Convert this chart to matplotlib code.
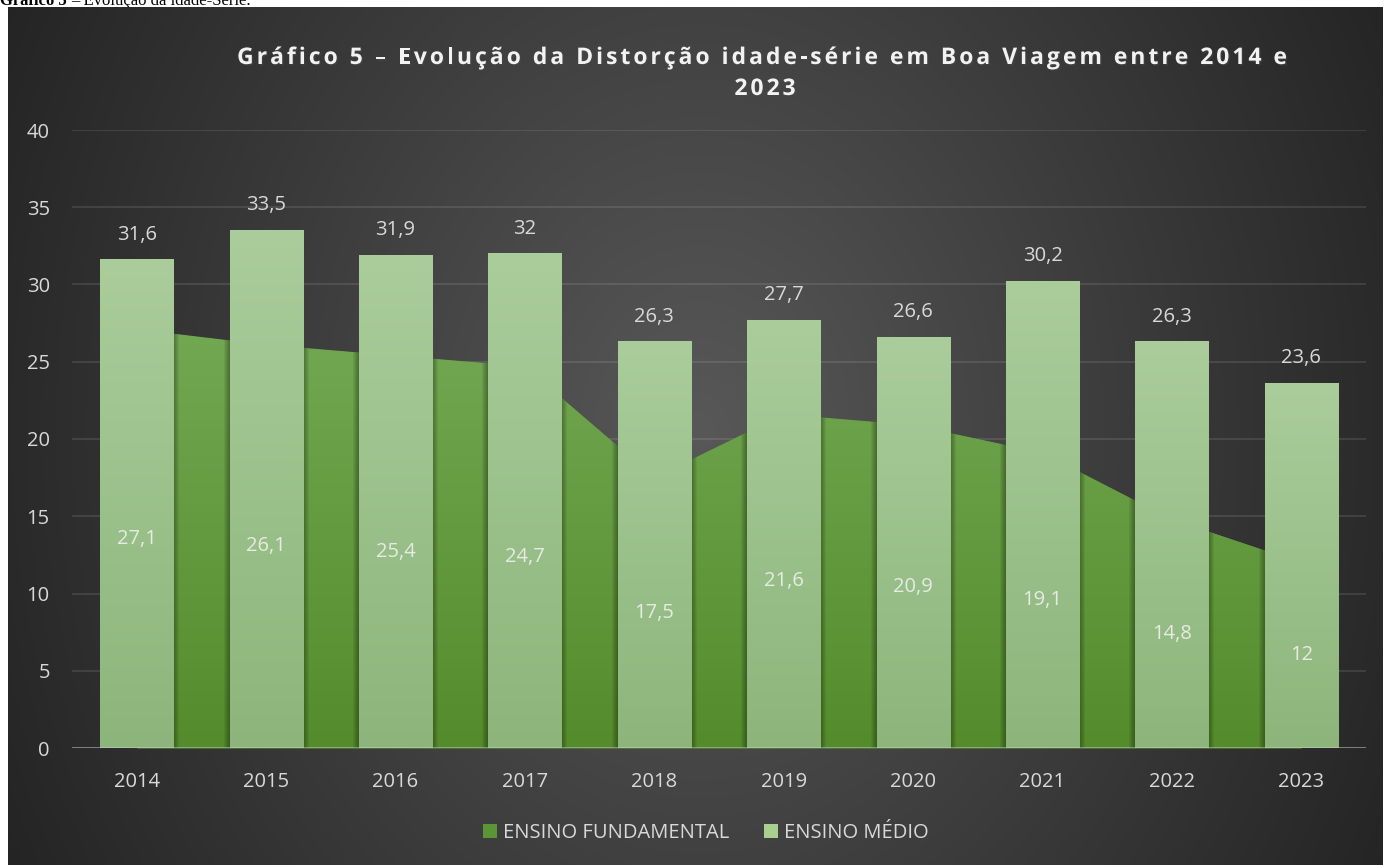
import numpy as np
import matplotlib
matplotlib.use("Agg")
import matplotlib.pyplot as plt
import matplotlib.patheffects as pe
from matplotlib.patches import Patch, Rectangle
from matplotlib.colors import LinearSegmentedColormap

# dados do gráfico
anos = ["2014", "2015", "2016", "2017", "2018", "2019", "2020", "2021", "2022", "2023"]
ensino_fundamental = [27.1, 26.1, 25.4, 24.7, 17.5, 21.6, 20.9, 19.1, 14.8, 12]
ensino_medio = [31.6, 33.5, 31.9, 32, 26.3, 27.7, 26.6, 30.2, 26.3, 23.6]
y_ticks = [0, 5, 10, 15, 20, 25, 30, 35, 40]
series_nomes = ["ENSINO FUNDAMENTAL", "ENSINO MÉDIO"]
titulo = ["Gráfico 5 – Evolução da Distorção idade-série em Boa Viagem entre 2014 e", "2023"]

plt.rcParams["font.family"] = ["Open Sans", "DejaVu Sans"]

W, H = 1387, 865
fig = plt.figure(figsize=(W / 100, H / 100), dpi=100)
fig.patch.set_facecolor("white")

# fundo escuro com gradiente radial (coordenadas em pixels, origem no topo)
bg = fig.add_axes([0, 0, 1, 1], zorder=-10)
bg.set_xlim(0, W)
bg.set_ylim(H, 0)
bg.axis("off")
xx, yy = np.meshgrid(np.linspace(8, 1383, 500), np.linspace(7, 865, 320))
r = np.sqrt(((xx - 700) / 690) ** 2 + ((yy - 430) / 850) ** 2)
v = np.clip(88 - 46 * r, 34, 90) / 255
rgb = np.dstack([v, v, v])
bg.imshow(rgb, extent=(8, 1383, 865, 7), origin="upper", aspect="auto", zorder=0)

# legenda do documento acima (cortada no topo)
t1 = bg.text(0, 5, "Gráfico 5", family=["Liberation Serif"], fontweight="bold",
             fontsize=12, va="baseline", ha="left", color="black", zorder=-1)
rend = fig.canvas.get_renderer()
w1 = t1.get_window_extent(rend).width
bg.text(w1 + 4, 5, "– Evolução da idade-Série.", family=["Liberation Serif"],
        fontsize=12, va="baseline", ha="left", color="black", zorder=-1)


def texto_espacado(eixo, x_centro, y_base, texto, espaco, **kw):
    """Desenha o texto letra por letra com espaçamento extra (px)."""
    def largura(s):
        t = eixo.text(0, 0, s, **kw)
        w = t.get_window_extent(rend).width
        t.remove()
        return w
    ref = largura("ll")
    larg = [largura("l" + c + "l") - ref for c in texto]
    total = sum(larg) + espaco * (len(texto) - 1)
    xpos = x_centro - total / 2
    for c, w in zip(texto, larg):
        eixo.text(xpos, y_base, c, va="baseline", ha="left", **kw)
        xpos += w + espaco


estilo_titulo = dict(fontsize=16.5, fontweight="bold", color="#f2f2f2", zorder=5,
                     path_effects=[pe.SimplePatchShadow(offset=(1, -1), alpha=0.5), pe.Normal()])
texto_espacado(bg, 762, 64, titulo[0], 3.0, **estilo_titulo)
texto_espacado(bg, 765, 95, titulo[1], 3.0, **estilo_titulo)

# eixo principal
ax = fig.add_axes([72 / W, 117 / H, 1294 / W, 618 / H])
ax.set_facecolor("none")
x = np.arange(len(anos))
largura_barra = 0.565
px = 10 / 1294  # 1 pixel em unidades de dados (x)

# área do ensino fundamental
area = ax.fill_between(x, ensino_fundamental, 0, color="#5e9a37", lw=0, zorder=1)
caminho_area = area.get_paths()[0]
cmap_area = LinearSegmentedColormap.from_list("area", ["#548c2c", "#72a852"])
grad = np.linspace(0, 1, 256).reshape(-1, 1)
img = ax.imshow(grad, extent=(0, len(anos) - 1, 0, max(ensino_fundamental)), origin="lower",
                aspect="auto", cmap=cmap_area, zorder=1)
img.set_clip_path(caminho_area, transform=ax.transData)

# barras do ensino médio com sombra (só sobre a área) e gradiente
cmap_barra = LinearSegmentedColormap.from_list("barra", ["#8db57b", "#aacd9b"])
barras = ax.bar(x, ensino_medio, width=largura_barra, color="#a0c58f", lw=0, zorder=3)
for b in barras:
    bx, bw, bh = b.get_x(), b.get_width(), b.get_height()
    for k in range(1, 7):
        sombra = Rectangle((bx - k * px, 0), bw + 2 * k * px, bh,
                           color="black", alpha=0.06, lw=0, zorder=2)
        ax.add_patch(sombra)
        sombra.set_clip_path(caminho_area, transform=ax.transData)
    ax.imshow(grad, extent=(bx, bx + bw, 0, bh), origin="lower", aspect="auto",
              cmap=cmap_barra, zorder=3)


def rotulo(v):
    return f"{v:g}".replace(".", ",")


for xi, v in zip(x, ensino_medio):
    ax.annotate(rotulo(v), (xi, v), xytext=(0, 18), textcoords="offset points",
                ha="center", va="center", color="#d9d9d9", fontsize=14.5, zorder=6)
for xi, v in zip(x, ensino_fundamental):
    ax.text(xi, v / 2, rotulo(v), ha="center", va="center", color="#e6ebe3",
            fontsize=14.5, zorder=6)

ax.set_xlim(-0.5, len(anos) - 0.5)
ax.set_ylim(0, 40)
ax.set_xticks(x, anos)
ax.set_yticks(y_ticks)
ax.tick_params(axis="x", length=0, pad=17, labelcolor="#d9d9d9", labelsize=14.5)
ax.tick_params(axis="y", length=0, pad=16, labelcolor="#d9d9d9", labelsize=14.5)
for s in ax.spines.values():
    s.set_visible(False)
ax.set_axisbelow(True)
ax.grid(axis="y", color="#d9d9d9", alpha=0.15, lw=1.2, zorder=0)
ax.axhline(0, color="#d9d9d9", alpha=0.55, lw=1.8, zorder=4)

# legenda
handles = [Patch(facecolor="#5a9636", lw=0), Patch(facecolor="#a9d08e", lw=0)]
fig.legend(handles, series_nomes, loc="center", bbox_to_anchor=(706 / W, 32 / H), ncol=2,
           frameon=False, fontsize=14.5, labelcolor="#d9d9d9", handlelength=0.7,
           handleheight=0.7, handletextpad=0.3, columnspacing=1.7)

fig.savefig("out.png", dpi=100)
